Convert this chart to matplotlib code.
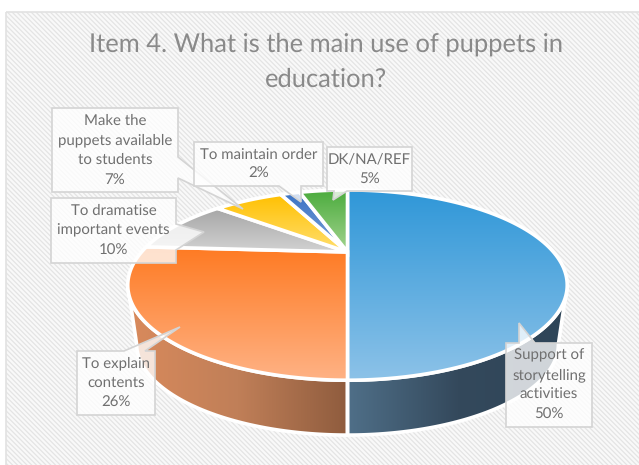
import numpy as np
import matplotlib.pyplot as plt
from matplotlib.colors import LinearSegmentedColormap
from matplotlib.patches import Polygon, Rectangle

plt.rcParams['font.family'] = ['Lato', 'DejaVu Sans']
plt.rcParams['hatch.linewidth'] = 0.9
plt.rcParams['text.hinting'] = 'none'

title = "Item 4. What is the main use of puppets in\neducation?"
categories = ["Support of\nstorytelling\nactivities", "To explain\ncontents",
              "To dramatise\nimportant events", "Make the\npuppets available\nto students",
              "To maintain order", "DK/NA/REF"]
shares = [50, 26, 10, 7, 2, 5]

# gradient stops for the top face and the outer wall of each slice
top_colors = [("#2f97d8", "#8cc2e8"), ("#fe7a22", "#ffb285"), ("#a6a6a6", "#d2d2d2"),
              ("#ffc000", "#ffdf70"), ("#3a72c4", "#7ea3d8"), ("#4aab3c", "#a3d48f")]
wall_colors = [("#4f6f88", "#34495c", "#2e4558"), ("#d98a5c", "#c07f58", "#8f5c3e")]

# callout boxes: x0, y0, x1, y1 and tail points, in pixels
boxes = [(506, 343, 592, 427), (77, 351, 155, 415), (51, 198, 176, 263),
         (52, 108, 178, 192), (194, 142, 323, 186), (327, 147, 412, 191)]
tails = [[(519, 343), (519, 323), (535, 343)],
         [(124, 351), (180, 327), (145, 351)],
         [(176, 224), (204, 232), (176, 250)],
         [(178, 157), (243, 209), (178, 178)],
         [(279, 186), (301, 202), (301, 186)],
         [(334, 191), (333, 200), (347, 191)]]
tail_sides = ["top", "top", "right", "right", "bottom", "bottom"]

# perspective circle: centre, half sizes, tilt, and the lower rim
cx, cy, A, B, k = 347.5, 252, 206, 83.6, 0.348
drop, shrink = 60, 0.96


def rim(t, lower=False):
    u, v = np.sin(t), np.cos(t)
    w = 1 + k * v
    if lower:
        return cx + shrink * A * u / w, cy + drop - shrink * B * v / w
    return cx + A * u / w, cy - B * v / w


def gradient_fill(ax, xy, stops, vertical=True, z=2):
    pts = np.array(xy)
    x0, x1, y0, y1 = pts[:, 0].min(), pts[:, 0].max(), pts[:, 1].min(), pts[:, 1].max()
    cmap = LinearSegmentedColormap.from_list("g", stops)
    ramp = np.linspace(0, 1, 256)
    ramp = ramp[:, None] if vertical else ramp[None, :]
    im = ax.imshow(ramp, cmap=cmap, extent=(x0, x1, y1, y0), aspect="auto", zorder=z,
                   interpolation="bilinear")
    poly = Polygon(xy, closed=True, facecolor="none", edgecolor="white", linewidth=2.6, zorder=z + 0.1)
    ax.add_patch(poly)
    im.set_clip_path(poly)


fig = plt.figure(figsize=(6.39, 4.65), dpi=100)
ax = fig.add_axes([0, 0, 1, 1])
ax.set_xlim(0, 639)
ax.set_ylim(465, 0)
ax.axis("off")

# striped panel
ax.add_patch(Rectangle((6, 12), 640, 460, facecolor="#f9f9f9", edgecolor="#e4e4e4", hatch="\\\\\\\\\\\\\\",
                       linewidth=0, zorder=0))
ax.add_patch(Rectangle((6, 12), 640, 460, facecolor="none", edgecolor="#e2e2e2", linewidth=1.2, zorder=0.5))

ax.text(326, 62, title, ha="center", va="center", fontsize=18.4, color="#8a8a8a", linespacing=1.6, zorder=6)

# slice boundaries, clockwise from twelve o'clock
edges = 2 * np.pi * np.cumsum([0] + shares) / sum(shares)

# outer walls only on the part of the rim that faces the viewer
side_limit = np.arccos(-k)
wall_spans = [(side_limit, edges[1]), (edges[1], 2 * np.pi - side_limit)]
for (a0, a1), stops in zip(wall_spans, wall_colors):
    t = np.linspace(a0, a1, 80)
    xt, yt = rim(t)
    xb, yb = rim(t, lower=True)
    xy = np.vstack([np.column_stack([xt, yt]), np.column_stack([xb, yb])[::-1]])
    gradient_fill(ax, xy, stops, vertical=False, z=1)

# top faces
for i in range(len(shares)):
    t = np.linspace(edges[i], edges[i + 1], 120)
    xs, ys = rim(t)
    xy = np.vstack([[cx, cy], np.column_stack([xs, ys])])
    gradient_fill(ax, xy, top_colors[i], z=2 + i * 0.2)

# callouts with data labels
for name, share, (x0, y0, x1, y1), tail, side in zip(categories, shares, boxes, tails, tail_sides):
    if side == "top":
        outline = [(x0, y0)] + tail + [(x1, y0), (x1, y1), (x0, y1)]
    elif side == "right":
        outline = [(x0, y0), (x1, y0)] + tail + [(x1, y1), (x0, y1)]
    else:
        outline = [(x0, y0), (x1, y0), (x1, y1)] + tail[::-1] + [(x0, y1)]
    ax.add_patch(Polygon(outline, closed=True, facecolor=(1, 1, 1, 0.78), edgecolor="#d4d4d4",
                         linewidth=1.2, zorder=5))
    ax.text((x0 + x1) / 2, (y0 + y1) / 2, f"{name}\n{share}%", ha="center", va="center", fontsize=10.8,
            color="#707070", linespacing=1.55, zorder=6)

fig.savefig("out.png", dpi=100)
